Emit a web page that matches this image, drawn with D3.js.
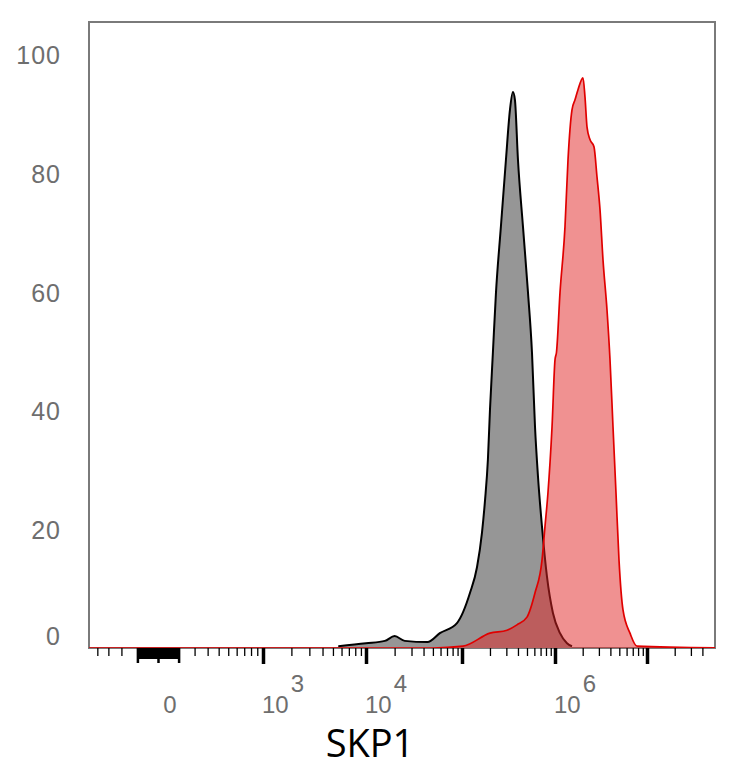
<!DOCTYPE html>
<html lang="en">
<head>
    <meta charset="UTF-8">
    <title>SKP1 histogram</title>
    <script src="https://d3js.org/d3.v7.min.js"></script>
    <style>
        body { margin: 0; background: #fff; }
        .ylab text { font-family: "Liberation Sans", Arial, sans-serif; font-size: 25px; fill: #6e6e6e; letter-spacing: 1px; }
        .xlab { font-family: "Liberation Sans", Arial, sans-serif; font-size: 24px; fill: #6e6e6e; }
        .title { font-family: "Open Sans", sans-serif; font-size: 38px; fill: #000; }
    </style>
</head>
<body>
    <svg width="734" height="768"></svg>
    <script>
        // isotype control (grey) - intensity vs % of max
        const isoX = [5600, 10000, 15800, 20000, 25500, 44000, 59000, 88700, 122000, 145000, 164000, 177000,
                      190000, 200000, 215000, 232000, 262000, 297000, 328000, 353000, 371000, 400000, 453000,
                      513000, 566000, 610000, 657000, 725000, 820000, 950000, 1133000, 1350000, 1530000];
        const isoY = [0.3, 0.8, 1.2, 2.0, 1.2, 1.0, 2.5, 4.2, 9.3, 13.6, 19.4, 24.9,
                      31.7, 40.1, 49.7, 59.8, 70.9, 82.2, 90.6, 93.6, 92.3, 82.2, 70.9,
                      59.8, 49.7, 37.2, 28.8, 20.4, 12.0, 5.9, 2.5, 0.8, 0.3];

        // SKP1 stained (red)
        const skpX = [-1000, 50000, 102500, 200000, 305000, 390000, 500000, 610000, 725000, 780000, 840000, 929000,
                      1000000, 1038000, 1133000, 1284000, 1385000, 1530000, 1650000, 1778000, 2015000, 2118000,
                      2229000, 2401000, 2653000, 2862000, 3085000, 3326000, 3675000, 3963000, 4271000, 4603000,
                      4963000, 5484000, 6533000, 7787000, 60000000];
        const skpY = [0, 0, 0.3, 2.5, 3.0, 3.9, 5.2, 9.3, 14.8, 20.4, 26.1, 37.2,
                      48.5, 49.8, 59.8, 70.9, 82.2, 90.6, 92.3, 94.0, 96.0, 92.8,
                      87.7, 85.6, 84.4, 79.3, 73.8, 65.3, 56.9, 48.5, 37.2, 26.1,
                      14.8, 6.4, 2.5, 0.3, 0];

        const yTicks = [0, 20, 40, 60, 80, 100];
        const xMajor = [1e3, 1e4, 1e5, 1e6, 1e7];
        const xNearZero = [-100, 0, 100];
        const xLabelValues = [0, 1e3, 1e4, 1e6];
        const xLabelBase = ["0", "10", "10", "10"];
        const xLabelExp = ["", "3", "4", "6"];
        const xTitle = "SKP1";

        const box = {left: 89, right: 715, top: 22, bottom: 648};
        const svg = d3.select("svg");

        // logicle-like axis: symlog pieces between decades
        const x = d3.scaleSymlog().constant(300)
            .domain([-1000, 0, 1e3, 1e4, 1e5, 1e6, 1e7])
            .range([53, 158, 263, 366, 462, 555, 647]);
        const y = d3.scaleLinear().domain([0, 105.4]).range([box.bottom, box.top]);

        const inside = v => x(v) > box.left + 4 && x(v) < box.right - 4;
        const xCluster = d3.range(-95, 100, 5).filter(v => v !== 0);
        let xMinor = d3.range(200, 1000, 100).map(v => -v).concat(d3.range(200, 1000, 100));
        [1e3, 1e4, 1e5, 1e6, 1e7].forEach(d => {
            d3.range(2, 10).forEach(m => xMinor.push(m * d));
        });
        xMinor = xMinor.filter(inside);

        svg.append("defs").append("clipPath").attr("id", "plot")
            .append("rect").attr("x", box.left).attr("y", box.top)
            .attr("width", box.right - box.left).attr("height", box.bottom - box.top);

        // frame
        svg.append("rect")
            .attr("x", box.left).attr("y", box.top)
            .attr("width", box.right - box.left).attr("height", box.bottom - box.top)
            .attr("fill", "none").attr("stroke", "#7a7a7a").attr("stroke-width", 2);

        const iso = isoX.map((v, i) => [v, isoY[i]]);
        const skp = skpX.map((v, i) => [v, skpY[i]]);

        const area = d3.area().x(d => x(d[0])).y0(y(0)).y1(d => y(d[1])).curve(d3.curveMonotoneX);
        const line = d3.line().x(d => x(d[0])).y(d => y(d[1])).curve(d3.curveMonotoneX);

        const g = svg.append("g").attr("clip-path", "url(#plot)");
        g.append("path").datum(iso).attr("d", area).attr("fill", "#969696");
        g.append("path").datum(iso).attr("d", line).attr("fill", "none")
            .attr("stroke", "#000").attr("stroke-width", 2);
        g.append("path").datum(skp).attr("d", area).attr("fill", "rgba(225,35,35,0.5)");
        g.append("path").datum(skp).attr("d", line).attr("fill", "none")
            .attr("stroke", "#e00000").attr("stroke-width", 1.7);

        // x ticks
        const tickGroup = (vals, size, width) => svg.append("g")
            .attr("transform", `translate(0,${box.bottom})`)
            .call(d3.axisBottom(x).tickValues(vals).tickSize(size).tickFormat(""))
            .call(a => a.select(".domain").remove())
            .call(a => a.selectAll("line").attr("stroke", "#000").attr("stroke-width", width));
        tickGroup(xMinor, 8, 1.3);
        tickGroup(xCluster, 11, 2);
        tickGroup(xNearZero, 15, 2.5);
        tickGroup(xMajor, 16, 3.5);

        // x labels: base with raised exponent
        xLabelValues.forEach((v, i) => {
            const t = svg.append("text").attr("class", "xlab")
                .attr("x", xLabelExp[i] ? x(v) - 1 : x(v) + 12).attr("y", 713)
                .attr("text-anchor", xLabelExp[i] ? "start" : "middle")
                .text(xLabelBase[i]);
            if (xLabelExp[i]) {
                t.append("tspan").attr("dx", 2).attr("dy", -21).text(xLabelExp[i]);
            }
        });

        // y labels
        svg.append("g").attr("class", "ylab")
            .attr("transform", `translate(${box.left},0)`)
            .call(d3.axisLeft(y).tickValues(yTicks).tickSize(0).tickPadding(28))
            .call(a => a.select(".domain").remove())
            .call(a => a.selectAll("text").attr("dy", d => d === 0 ? "-0.15em" : "0.38em"));

        svg.append("text").attr("class", "title")
            .attr("x", 370).attr("y", 757)
            .attr("text-anchor", "middle").text(xTitle);
    </script>
</body>
</html>
